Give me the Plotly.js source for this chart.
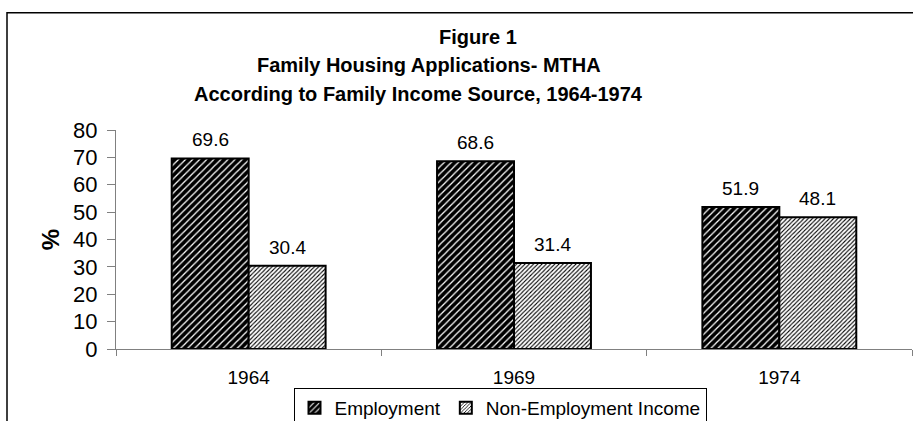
<!DOCTYPE html>
<html>
<head>
<meta charset="utf-8">
<script src="https://cdn.plot.ly/plotly-3.0.1.min.js"></script>
<style>
html,body{margin:0;padding:0;background:#fff;}
#chart{width:913px;height:421px;}
</style>
</head>
<body>
<div id="chart"></div>
<script>
const categories = ["1964", "1969", "1974"];
const employment = [69.6, 68.6, 51.9];
const nonEmployment = [30.4, 31.4, 48.1];
const seriesNames = ["Employment", "Non-Employment Income"];
const titleLines = ["Figure 1", "Family Housing Applications- MTHA", "According to Family Income Source, 1964-1974"];
const yTicks = [0, 10, 20, 30, 40, 50, 60, 70, 80];

const FONT = "Liberation Sans, Arial, sans-serif";

const traces = [
  {
    type: "bar", name: seriesNames[0], x: categories, y: employment,
    marker: {color: "#000", line: {color: "#000", width: 2},
      pattern: {shape: "/", bgcolor: "#000", fgcolor: "#fff", size: 5, solidity: 0.25, fillmode: "replace"}}
  },
  {
    type: "bar", name: seriesNames[1], x: categories, y: nonEmployment,
    marker: {color: "#fff", line: {color: "#000", width: 2},
      pattern: {shape: "/", bgcolor: "#fff", fgcolor: "#000", size: 3, solidity: 0.35, fillmode: "replace"}}
  }
];

const L = 116, T = 129.5, W = 796, H = 219.5;
const titleX = [478, 429, 418];
const titleY = [36, 64, 93];
const annotations = titleLines.map((t, i) => ({
  text: "<b>" + t + "</b>", xref: "paper", yref: "paper",
  x: (titleX[i] - L) / W, y: (T + H - titleY[i]) / H,
  xanchor: "center", yanchor: "middle", showarrow: false,
  font: {family: FONT, size: 20, color: "#000"}
}));

const barHalf = (W / categories.length) * (1 - 0.42) / 4;
[employment, nonEmployment].forEach((series, s) => {
  series.forEach((v, i) => {
    annotations.push({
      text: v.toFixed(1), xref: "x", yref: "y", x: i, y: v,
      xshift: (s === 0 ? -1 : 1) * barHalf, yshift: 6,
      xanchor: "center", yanchor: "bottom", showarrow: false,
      font: {family: FONT, size: 19, color: "#000"}
    });
  });
});

const layout = {
  width: 913, height: 421,
  margin: {l: L, r: 1, t: T, b: 421 - T - H, pad: 0, autoexpand: false},
  paper_bgcolor: "#fff", plot_bgcolor: "#fff",
  font: {family: FONT, color: "#000"},
  barmode: "group", bargap: 0.42, bargroupgap: 0,
  showlegend: true,
  legend: {orientation: "h", x: (500 - L) / W, xanchor: "center", y: -(388 - T - H) / H, yanchor: "top",
    bordercolor: "#000", borderwidth: 1, bgcolor: "#fff",
    font: {family: FONT, size: 19, color: "#000"}, traceorder: "normal"},
  xaxis: {
    type: "category", range: [-0.5, categories.length - 0.5], autorange: false,
    showgrid: false, zeroline: false,
    showline: true, linecolor: "#808080", linewidth: 1,
    ticks: "outside", tickson: "boundaries", ticklen: 6, tickcolor: "#808080",
    tickfont: {family: FONT, size: 19, color: "#000"}, ticklabelstandoff: 11
  },
  yaxis: {
    range: [0, 80], autorange: false, tickvals: yTicks, showgrid: false, zeroline: false,
    showline: true, linecolor: "#808080", linewidth: 1,
    ticks: "outside", ticklen: 8, tickcolor: "#808080",
    tickfont: {family: FONT, size: 22, color: "#000"}, ticklabelstandoff: 5,
    title: {text: "<b>%</b>", font: {family: FONT, size: 24, color: "#000"}, standoff: 6}
  },
  annotations: annotations,
  shapes: [{
    type: "rect", xref: "paper", yref: "paper",
    x0: (7 - L) / W, x1: (930 - L) / W, y0: -1, y1: (T + H - 12) / H,
    line: {color: "#000", width: 1.5}, fillcolor: "rgba(0,0,0,0)", layer: "below"
  }]
};

Plotly.newPlot("chart", traces, layout, {displayModeBar: false, staticPlot: true});
</script>
</body>
</html>
